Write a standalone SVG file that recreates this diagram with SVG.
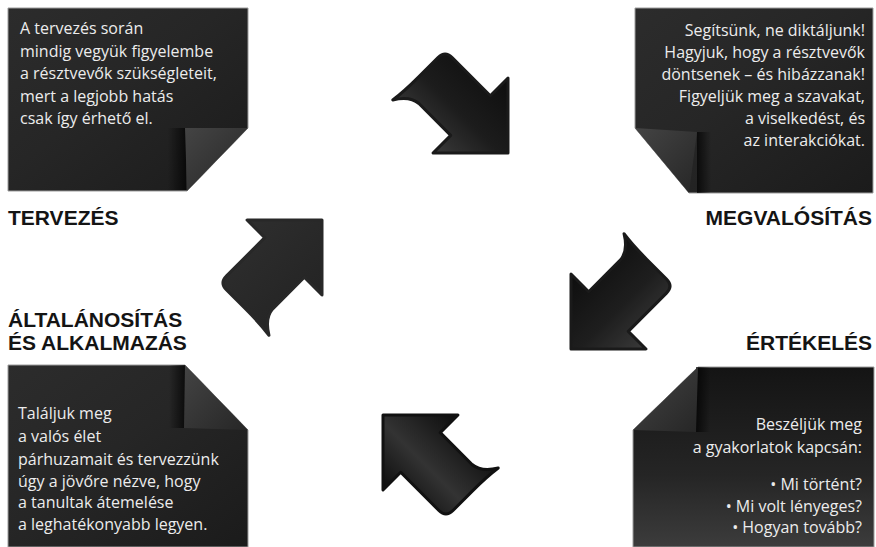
<svg xmlns="http://www.w3.org/2000/svg" width="876" height="547" viewBox="0 0 876 547">
<defs>
<style>
.box{stroke:#9c9c9c;stroke-width:1}
.body{font-family:"Open Sans","Liberation Sans",sans-serif;font-size:16px;fill:#ececec}
.end{text-anchor:end}
.lbl{font-family:"Liberation Sans",Arial,sans-serif;font-weight:bold;font-size:21px;fill:#141414}
.flap{stroke:none}
</style>
<linearGradient id="boxG" x1="0" y1="0" x2="1" y2="1">
<stop offset="0" stop-color="#2c2c2c"/><stop offset="0.45" stop-color="#262626"/><stop offset="1" stop-color="#1b1b1b"/>
</linearGradient>
<linearGradient id="boxBR" x1="0" y1="0" x2="0" y2="1">
<stop offset="0" stop-color="#141414"/><stop offset="0.6" stop-color="#252525"/><stop offset="1" stop-color="#3c3c3c"/>
</linearGradient>
<linearGradient id="flapG" x1="0" y1="0" x2="1" y2="1">
<stop offset="0" stop-color="#444"/><stop offset="1" stop-color="#262626"/>
</linearGradient>
<linearGradient id="shadowV" x1="0" y1="0" x2="1" y2="0">
<stop offset="0" stop-color="#000" stop-opacity="0"/><stop offset="1" stop-color="#000" stop-opacity="0.7"/>
</linearGradient>
<linearGradient id="arrA" x1="0" y1="0" x2="0" y2="1">
<stop offset="0" stop-color="#0e0e0e"/><stop offset="0.55" stop-color="#1c1c1c"/><stop offset="1" stop-color="#3a3a3a"/>
</linearGradient>
<linearGradient id="arrB" x1="0" y1="1" x2="0" y2="0">
<stop offset="0" stop-color="#0e0e0e"/><stop offset="0.55" stop-color="#1e1e1e"/><stop offset="1" stop-color="#3a3a3a"/>
</linearGradient>
<linearGradient id="arrC" x1="0" y1="0" x2="0" y2="1">
<stop offset="0" stop-color="#0c0c0c"/><stop offset="0.45" stop-color="#333"/><stop offset="1" stop-color="#0c0c0c"/>
</linearGradient>
<linearGradient id="arrD" x1="0" y1="0" x2="0" y2="1">
<stop offset="0" stop-color="#2e2e2e"/><stop offset="1" stop-color="#242424"/>
</linearGradient>
<path id="arrow" d="M0,0 L-53,53 L-53,28 L-98,28 Q-110,29 -119,44 Q-117,30 -117,10 L-117,-18 Q-117,-28 -107,-28 L-53,-28 L-53,-53 Z"/>
</defs>
<rect width="876" height="547" fill="#ffffff"/>

<g id="tervezes-box">
<path class="box" d="M8,8 H248 V128 L187,191 H8 Z" fill="url(#boxG)"/>
<rect x="168" y="128" width="18" height="62" fill="url(#shadowV)"/>
<path class="flap" d="M185,128 L248,128 L187,191 Z" fill="url(#flapG)"/>
<text class="body" x="20" y="34">A tervezés során</text>
<text class="body" x="20" y="56.5">mindig vegyük figyelembe</text>
<text class="body" x="20" y="79">a résztvevők szükségleteit,</text>
<text class="body" x="20" y="101.5">mert a legjobb hatás</text>
<text class="body" x="20" y="124">csak így érhető el.</text>
</g>
<g id="tervezes-label"><text class="lbl" x="8" y="225">TERVEZÉS</text></g>

<g id="megvalositas-box">
<path class="box" d="M635,8 H873 V193 H689 L635,128 Z" fill="url(#boxG)"/>
<rect x="697" y="132" width="14" height="61" fill="url(#shadowV)" transform="translate(1408,0) scale(-1,1)"/>
<path class="flap" d="M635,128 L697,132 L689,193 Z" fill="url(#flapG)"/>
<text class="body end" x="865" y="36">Segítsünk, ne diktáljunk!</text>
<text class="body end" x="865" y="58">Hagyjuk, hogy a résztvevők</text>
<text class="body end" x="865" y="80">döntsenek – és hibázzanak!</text>
<text class="body end" x="865" y="102">Figyeljük meg a szavakat,</text>
<text class="body end" x="865" y="124">a viselkedést, és</text>
<text class="body end" x="865" y="146">az interakciókat.</text>
</g>
<g id="megvalositas-label"><text class="lbl end" x="872" y="225">MEGVALÓSÍTÁS</text></g>

<g id="ertekeles-label"><text class="lbl end" x="872" y="350">ÉRTÉKELÉS</text></g>
<g id="ertekeles-box">
<path class="box" d="M698,367 H874 V547 H633 V430 Z" fill="url(#boxBR)"/>
<rect x="696" y="367" width="14" height="65" fill="url(#shadowV)" transform="translate(1406,0) scale(-1,1)"/>
<path class="flap" d="M698,367 L696,432 L633,430 Z" fill="url(#flapG)"/>
<text class="body end" x="862" y="430">Beszéljük meg</text>
<text class="body end" x="862" y="453">a gyakorlatok kapcsán:</text>
<text class="body end" x="862" y="490">• Mi történt?</text>
<text class="body end" x="862" y="512">• Mi volt lényeges?</text>
<text class="body end" x="862" y="533">• Hogyan tovább?</text>
</g>

<g id="altalanositas-label">
<text class="lbl" x="8" y="327">ÁLTALÁNOSÍTÁS</text>
<text class="lbl" x="8" y="350">ÉS ALKALMAZÁS</text>
</g>
<g id="altalanositas-box">
<path class="box" d="M8,365 H185 L248,430 V547 H8 Z" fill="url(#boxG)"/>
<rect x="169" y="365" width="16" height="63" fill="url(#shadowV)"/>
<path class="flap" d="M185,365 L248,430 L184,428 Z" fill="url(#flapG)"/>
<text class="body" x="18" y="419">Találjuk meg</text>
<text class="body" x="18" y="442">a valós élet</text>
<text class="body" x="18" y="465">párhuzamait és tervezzünk</text>
<text class="body" x="18" y="487">úgy a jövőre nézve, hogy</text>
<text class="body" x="18" y="508">a tanultak átemelése</text>
<text class="body" x="18" y="530">a leghatékonyabb legyen.</text>
</g>

<g id="connectors" stroke-linejoin="round" stroke-width="3">
<use href="#arrow" transform="translate(508,153) rotate(45)" fill="url(#arrA)" stroke="#1a1a1a"/>
<use href="#arrow" transform="translate(571,349) rotate(135)" fill="url(#arrB)" stroke="#1a1a1a"/>
<use href="#arrow" transform="translate(383,415) rotate(225)" fill="url(#arrC)" stroke="#111"/>
<use href="#arrow" transform="translate(322,220) rotate(-45)" fill="url(#arrD)" stroke="#282828"/>
</g>
</svg>
